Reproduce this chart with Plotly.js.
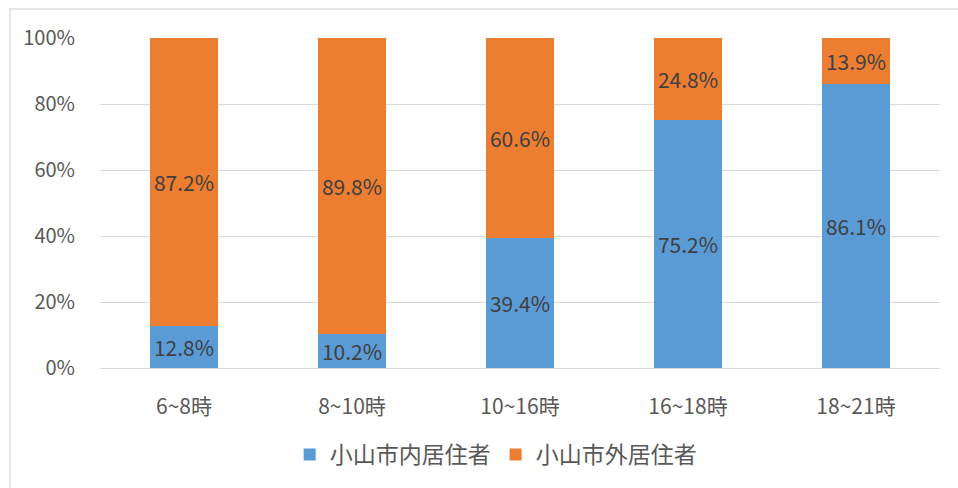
<!DOCTYPE html>
<html>
<head>
<meta charset="utf-8">
<script src="https://cdn.plot.ly/plotly-3.0.1.min.js"></script>
<style>
html,body{margin:0;padding:0;background:#fff;}
#frame{position:absolute;left:9px;top:8px;width:949px;height:480px;border-left:2px solid #e6e6e6;border-top:2px solid #e6e6e6;box-sizing:border-box;}
#chart{position:absolute;left:0;top:0;width:958px;height:488px;}
</style>
</head>
<body>
<div id="frame"></div>
<div id="chart"></div>
<script>
const categories = ["6~8時", "8~10時", "10~16時", "16~18時", "18~21時"];
const insideResidents = [12.8, 10.2, 39.4, 75.2, 86.1];
const outsideResidents = [87.2, 89.8, 60.6, 24.8, 13.9];
const seriesNames = ["小山市内居住者", "小山市外居住者"];
const yTicks = [0, 20, 40, 60, 80, 100];
const yTickLabels = ["0%", "20%", "40%", "60%", "80%", "100%"];

const FONT = "'Noto Sans CJK JP', 'Noto Sans', sans-serif";
const labelFont = {family: FONT, size: 21, color: "#404040"};

const traces = [
  {type: "bar", name: seriesNames[0], x: categories, y: insideResidents,
   marker: {color: "#5B9BD5"}, texttemplate: "%{y:.1f}%", textposition: "inside",
   insidetextanchor: "middle", constraintext: "none", textfont: labelFont, hoverinfo: "none"},
  {type: "bar", name: seriesNames[1], x: categories, y: outsideResidents,
   marker: {color: "#ED7D31"}, texttemplate: "%{y:.1f}%", textposition: "inside",
   insidetextanchor: "middle", constraintext: "none", textfont: labelFont, hoverinfo: "none"}
];

const layout = {
  width: 958, height: 488,
  margin: {l: 100, r: 18, t: 38, b: 118},
  paper_bgcolor: "rgba(0,0,0,0)", plot_bgcolor: "rgba(0,0,0,0)",
  barmode: "stack", bargap: 0.6,
  font: {family: FONT, color: "#595959"},
  showlegend: true,
  legend: {orientation: "h", x: 0.471, xanchor: "center", y: -0.262, yanchor: "middle",
           font: {family: FONT, size: 23, color: "#595959"}, traceorder: "normal",
           itemwidth: 30, tracegroupgap: 0},
  xaxis: {type: "category", showgrid: false, zeroline: false, showline: true,
          linecolor: "#D9D9D9", linewidth: 1, ticks: "outside", ticklen: 20,
          tickcolor: "rgba(0,0,0,0)", tickfont: {family: FONT, size: 21, color: "#595959"},
          fixedrange: true},
  yaxis: {range: [0, 100], tickmode: "array", tickvals: yTicks, ticktext: yTickLabels,
          showgrid: true, gridcolor: "#D9D9D9", gridwidth: 1, zeroline: false, showline: false,
          ticks: "outside", ticklen: 20, tickcolor: "rgba(0,0,0,0)",
          tickfont: {family: FONT, size: 20, color: "#595959"}, fixedrange: true}
};

Plotly.newPlot("chart", traces, layout, {displayModeBar: false, staticPlot: true});
</script>
</body>
</html>
